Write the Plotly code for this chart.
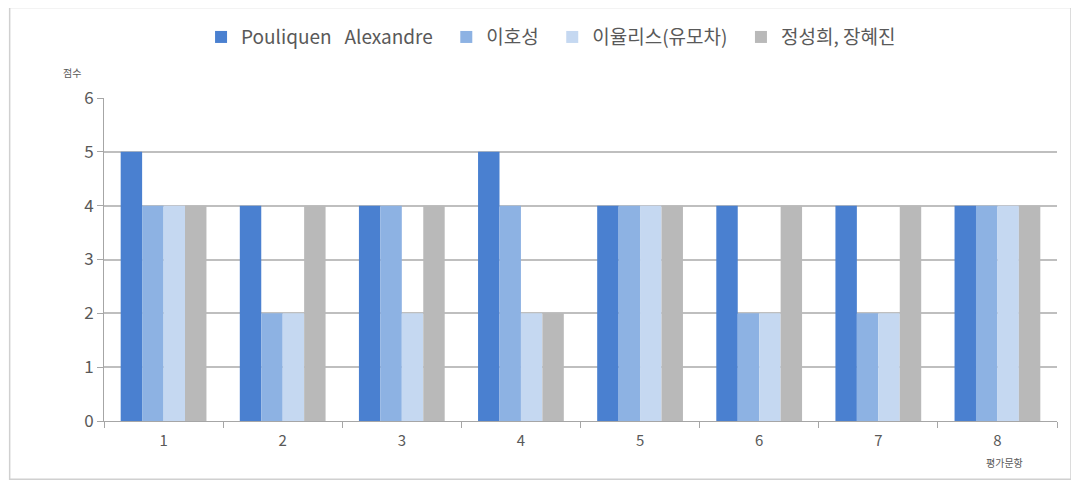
import plotly.graph_objects as go

items = ["1", "2", "3", "4", "5", "6", "7", "8"]
pouliquen = [5, 4, 4, 5, 4, 4, 4, 4]
lee_hs = [4, 2, 4, 4, 4, 2, 2, 4]
ulysses = [4, 2, 2, 2, 4, 2, 2, 4]
jung = [4, 4, 4, 2, 4, 4, 4, 4]

names = ["Pouliquen   Alexandre", "이호성", "이율리스(유모차)", "정성희, 장혜진"]
colors = ["#4a80d0", "#8db2e3", "#c5d8f1", "#b9b9b9"]

fig = go.Figure()
for name, vals, c in zip(names, [pouliquen, lee_hs, ulysses, jung], colors):
    # a little trailing padding widens the gaps between legend entries
    fig.add_trace(go.Bar(x=items, y=vals, name=name + "\u00a0\u00a0", marker_color=c,
                         marker_line_width=0))

fig.update_layout(
    width=1079, height=485,
    margin=dict(l=96, r=30, t=90, b=72, autoexpand=False),
    paper_bgcolor="white", plot_bgcolor="white",
    font=dict(family="Noto Sans CJK KR, Noto Sans", color="#595959", size=15),
    barmode="group", bargap=0.28, bargroupgap=0,
    showlegend=True,
    legend=dict(orientation="h", xref="container", yref="container",
                x=0.507, xanchor="center", y=0.94, yanchor="middle",
                bgcolor="rgba(0,0,0,0)",
                font=dict(size=19), itemwidth=30, traceorder="normal"),
)
fig.update_xaxes(
    showline=True, linecolor="#a6a6a6", linewidth=1,
    ticks="outside", tickson="boundaries", ticklen=6, tickcolor="#a6a6a6",
    showgrid=False, tickfont=dict(size=15), ticklabelstandoff=6,
)
fig.update_yaxes(
    range=[0, 6], dtick=1,
    showline=True, linecolor="#a6a6a6", linewidth=1,
    ticks="outside", ticklen=6, tickcolor="#a6a6a6",
    showgrid=True, gridcolor="#bfbfbf", gridwidth=1.5,
    zeroline=False, tickfont=dict(size=17),
)
fig.add_annotation(text="점수", xref="paper", yref="paper", x=-0.034, y=1.08,
                   xanchor="center", yanchor="middle",
                   showarrow=False, font=dict(size=10))
fig.add_annotation(text="평가문항", xref="paper", yref="paper", x=0.945, y=-0.127,
                   xanchor="center", yanchor="middle",
                   showarrow=False, font=dict(size=10))
fig.add_shape(type="rect", xref="paper", yref="paper",
              x0=-0.099, x1=1.0147, y0=-0.18, y1=1.28,
              line=dict(color="#d0d0d0", width=1.5))

fig.write_html("out.html")
